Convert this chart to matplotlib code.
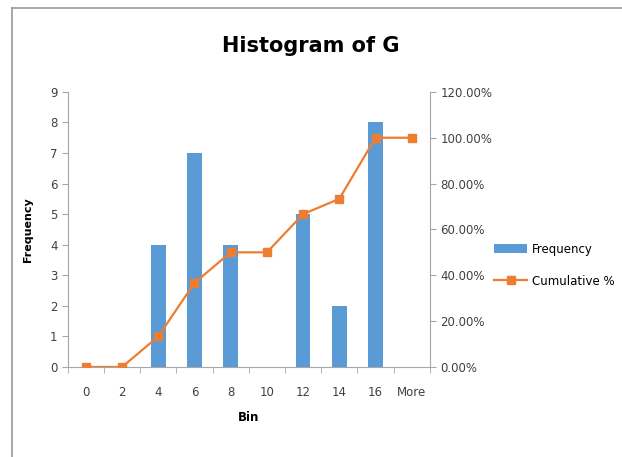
import numpy as np
import matplotlib.pyplot as plt
from matplotlib.lines import Line2D
from matplotlib.ticker import FuncFormatter

plt.rcParams['font.family'] = ['DejaVu Sans']

# datos
bins = ['0', '2', '4', '6', '8', '10', '12', '14', '16', 'More']
freq = [0, 0, 4, 7, 4, 0, 5, 2, 8, 0]
cum_pct = [0.0, 0.0, 13.33, 36.67, 50.0, 50.0, 66.67, 73.33, 100.0, 100.0]

blue = '#5B9BD5'
orange = '#ED7D31'
grey = '#A6A6A6'
txt = '#404040'
fs = 8.5

fig = plt.figure(figsize=(6.22, 4.57), dpi=100)
ax = fig.add_axes([0.109, 0.197, 0.582, 0.602])
x = np.arange(len(bins))

ax.bar(x, freq, width=0.4, color=blue, label='Frequency', zorder=2)
ax.set_xlim(-0.5, len(bins) - 0.5)
ax.set_ylim(0, 9)
ax.set_yticks(range(0, 10))
ax.set_xticks(x)
ax.set_xticklabels(bins)
ax.set_xticks(np.arange(-0.5, len(bins)), minor=True)
ax.tick_params(axis='x', which='major', length=0, pad=14, labelsize=fs, colors=txt)
ax.tick_params(axis='x', which='minor', length=4, color=grey, direction='out')
ax.tick_params(axis='y', length=4, color=grey, labelsize=fs, labelcolor=txt)
for s in ['top', 'right']:
    ax.spines[s].set_visible(False)
ax.spines['left'].set_color(grey)
ax.spines['bottom'].set_color(grey)
ax.set_xlabel('Bin', fontsize=8.5, fontweight='bold', labelpad=8)
ax.set_ylabel('Frequency', fontsize=8, fontweight='bold', labelpad=12)

ax2 = ax.twinx()
ax2.plot(x, cum_pct, color=orange, lw=1.6, marker='s', ms=5.5, label='Cumulative %', zorder=3)
ax2.set_ylim(0, 120)
ax2.set_yticks(range(0, 121, 20))
ax2.yaxis.set_major_formatter(FuncFormatter(lambda v, p: f'{v:.2f}%'))
ax2.tick_params(axis='y', length=4, color=grey, labelsize=fs, labelcolor=txt)
for s in ['top', 'left', 'bottom']:
    ax2.spines[s].set_visible(False)
ax2.spines['right'].set_color(grey)

fig.text(0.5, 0.90, 'Histogram of G', ha='center', va='center', fontsize=15, fontweight='bold')

h1, l1 = ax.get_legend_handles_labels()
h2, l2 = ax2.get_legend_handles_labels()
fig.legend(h1 + h2, l1 + l2, loc='center left', bbox_to_anchor=(0.785, 0.42),
           frameon=False, fontsize=fs, handlelength=2.8, handletextpad=0.4,
           labelspacing=1.6, borderpad=0)

# marco de la captura
fig.add_artist(Line2D([0.019, 1.0], [0.982, 0.982], color='#999999', lw=1.2))
fig.add_artist(Line2D([0.019, 0.019], [0.0, 0.982], color='#999999', lw=1.2))

fig.savefig('out.png', dpi=100)
